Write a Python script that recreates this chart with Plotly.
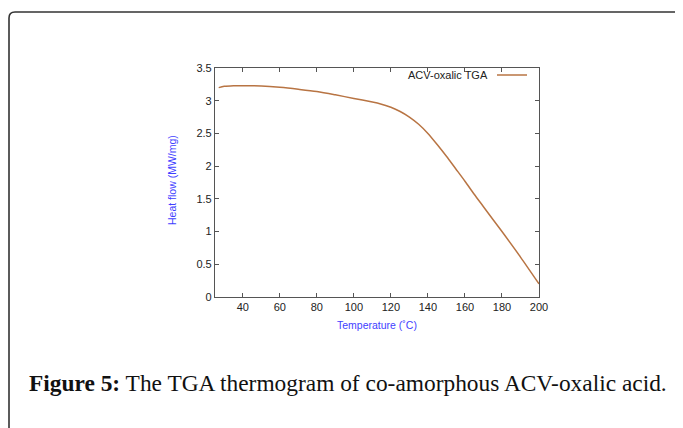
import plotly.graph_objects as go

temperature = [27, 30, 35, 40, 50, 60, 70, 80, 90, 100, 110, 114, 120, 125, 130, 135,
               140, 145, 150, 155, 160, 165, 170, 180, 190, 200]
heat_flow = [3.20, 3.22, 3.23, 3.23, 3.225, 3.205, 3.175, 3.14, 3.09, 3.035, 2.98, 2.955,
             2.90, 2.835, 2.75, 2.64, 2.50, 2.33, 2.15, 1.96, 1.77, 1.57, 1.38, 1.00, 0.61, 0.20]
x_ticks = [40, 60, 80, 100, 120, 140, 160, 180, 200]
y_ticks = [0, 0.5, 1, 1.5, 2, 2.5, 3, 3.5]
y_tick_text = ["0", "0.5", "1", "1.5", "2", "2.5", "3", "3.5"]
series_name = "ACV-oxalic TGA"
caption_bold = "Figure 5:"
caption_rest = " The TGA thermogram of co-amorphous ACV-oxalic acid."

OFF = 8  # page body margin
W, H = 683 - OFF, 428 - OFF
# plot area in screen pixels: x 215..539, y 68..297
L, R, T, B = 215 - OFF, 683 - 539, 68 - OFF, 428 - 297
PW, PH = W - L - R, H - T - B


def px(X):
    return (X - OFF - L) / PW


def py(Y):
    return (H - B - (Y - OFF)) / PH


line_color = "#b87443"
blue = "#3f3fff"

fig = go.Figure()
fig.add_trace(go.Scatter(x=temperature, y=heat_flow, mode="lines", name=series_name,
                         line=dict(color=line_color, width=1.5, shape="spline", smoothing=0.8),
                         showlegend=False))

axis_common = dict(showgrid=False, zeroline=False, showline=True, mirror="ticks",
                   linecolor="#555555", linewidth=1.2, ticks="inside", ticklen=4,
                   tickcolor="#555555", tickfont=dict(family="Liberation Sans, Arial", size=11, color="#222222"))
fig.update_xaxes(range=[25, 200], tickvals=x_ticks, **axis_common)
fig.update_yaxes(range=[0, 3.5], tickvals=y_ticks, ticktext=y_tick_text, **axis_common)

annotations = [
    dict(text=series_name, x=px(490), y=py(75), xref="paper", yref="paper", xanchor="right",
         yanchor="middle", showarrow=False, font=dict(family="Liberation Sans, Arial", size=11, color="#222222")),
    dict(text="Heat flow (MW/mg)", x=px(172), y=py(180), xref="paper", yref="paper", textangle=-90,
         xanchor="center", yanchor="middle", showarrow=False,
         font=dict(family="Liberation Sans, Arial", size=10.5, color=blue)),
    dict(text="Temperature (˚C)", x=px(377), y=py(325), xref="paper", yref="paper",
         xanchor="center", yanchor="middle", showarrow=False,
         font=dict(family="Liberation Sans, Arial", size=10.5, color=blue)),
    dict(text="<b>" + caption_bold + "</b>" + caption_rest, x=px(27), y=py(383), xref="paper", yref="paper",
         xanchor="left", yanchor="middle", showarrow=False,
         font=dict(family="Liberation Serif, Times New Roman, serif", size=23.4, color="#111111")),
]

# rounded frame path in paper coordinates (screen pixels converted)
x0, y0, x1, y1, rr = 9, 12, 682, 450, 6
path = (f"M {px(x0)},{py(y1)} L {px(x0)},{py(y0 + rr)} Q {px(x0)},{py(y0)} {px(x0 + rr)},{py(y0)} "
        f"L {px(x1 - rr)},{py(y0)} Q {px(x1)},{py(y0)} {px(x1)},{py(y0 + rr)} L {px(x1)},{py(y1)}")
shapes = [
    dict(type="line", xref="paper", yref="paper", x0=px(497), x1=px(527), y0=py(75), y1=py(75),
         line=dict(color=line_color, width=1.5)),
    dict(type="path", xref="paper", yref="paper", path=path, line=dict(color="#333333", width=1.6)),
]

fig.update_layout(width=W, height=H, margin=dict(l=L, r=R, t=T, b=B),
                  paper_bgcolor="white", plot_bgcolor="white",
                  annotations=annotations, shapes=shapes)
fig.write_html("out.html")
